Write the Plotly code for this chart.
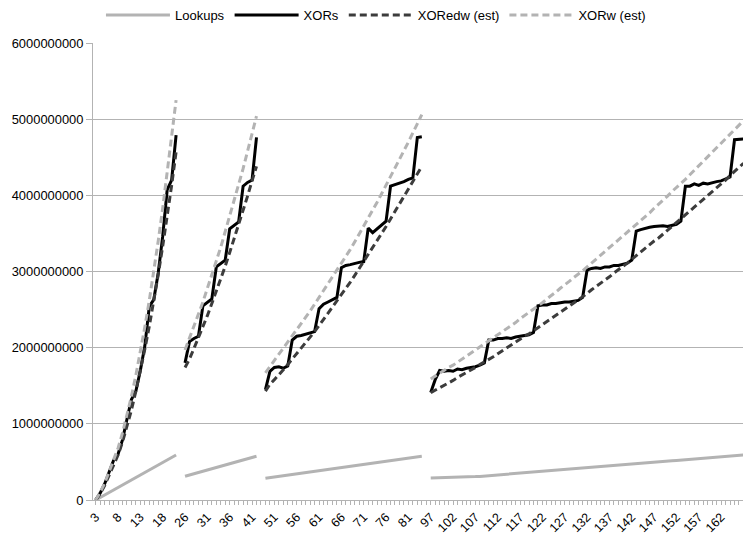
import plotly.graph_objects as go

# ---- categories (n), four blocks separated by one empty category ----
cats1 = list(range(3, 22))
cats2 = list(range(26, 43))
cats3 = list(range(49, 85))
cats4 = list(range(97, 168))

# ---- values in billions ----
lookups1 = [0.000, 0.033, 0.066, 0.098, 0.131, 0.164, 0.197, 0.229, 0.262, 0.295,
            0.328, 0.361, 0.393, 0.426, 0.459, 0.492, 0.524, 0.557, 0.590]
lookups2 = [0.312, 0.328, 0.345, 0.361, 0.378, 0.394, 0.410, 0.427, 0.443, 0.459,
            0.476, 0.492, 0.509, 0.525, 0.541, 0.558, 0.574]
lookups3 = [0.285, 0.293, 0.302, 0.310, 0.318, 0.326, 0.335, 0.343, 0.351, 0.360,
            0.368, 0.376, 0.385, 0.393, 0.401, 0.409, 0.418, 0.426, 0.434, 0.443,
            0.451, 0.459, 0.467, 0.476, 0.484, 0.492, 0.501, 0.509, 0.517, 0.526,
            0.534, 0.542, 0.550, 0.559, 0.567, 0.575]
lookups4 = [0.290, 0.291, 0.292, 0.293, 0.294, 0.296, 0.298, 0.300, 0.302, 0.304,
            0.307, 0.310, 0.315, 0.319, 0.324, 0.329, 0.334, 0.338, 0.343, 0.348,
            0.353, 0.357, 0.362, 0.367, 0.372, 0.377, 0.381, 0.386, 0.391, 0.396,
            0.400, 0.405, 0.410, 0.415, 0.419, 0.424, 0.429, 0.434, 0.438, 0.443,
            0.448, 0.453, 0.457, 0.462, 0.467, 0.472, 0.477, 0.481, 0.486, 0.491,
            0.496, 0.500, 0.505, 0.510, 0.515, 0.519, 0.524, 0.529, 0.534, 0.538,
            0.543, 0.548, 0.553, 0.557, 0.562, 0.567, 0.572, 0.576, 0.581, 0.586,
            0.591]

xors1 = [0.00, 0.09, 0.21, 0.37, 0.52, 0.60, 0.79, 1.06, 1.32, 1.43,
         1.70, 2.02, 2.54, 2.63, 2.98, 3.46, 4.07, 4.20, 4.79]
xors2 = [1.80, 2.08, 2.12, 2.15, 2.55, 2.60, 2.64, 3.06, 3.11, 3.15,
         3.56, 3.61, 3.65, 4.12, 4.17, 4.20, 4.76]
xors3 = [1.45, 1.69, 1.74, 1.75, 1.73, 1.76, 2.10, 2.15, 2.16, 2.18,
         2.20, 2.21, 2.51, 2.57, 2.60, 2.63, 2.66, 3.05, 3.08, 3.09,
         3.11, 3.12, 3.13, 3.57, 3.51, 3.56, 3.61, 3.66, 4.12, 4.14,
         4.15, 4.18, 4.21, 4.23, 4.76, 4.77]
xors4 = [1.41, 1.58, 1.70, 1.69, 1.70, 1.69, 1.72, 1.71, 1.73, 1.74,
         1.75, 1.77, 1.80, 2.10, 2.10, 2.12, 2.12, 2.13, 2.12, 2.14,
         2.15, 2.16, 2.17, 2.20, 2.55, 2.56, 2.56, 2.58, 2.58, 2.59,
         2.60, 2.60, 2.61, 2.62, 2.66, 3.02, 3.04, 3.05, 3.04, 3.06,
         3.06, 3.08, 3.08, 3.10, 3.11, 3.15, 3.53, 3.55, 3.57, 3.58,
         3.59, 3.60, 3.60, 3.59, 3.61, 3.62, 3.66, 4.12, 4.12, 4.15,
         4.13, 4.16, 4.15, 4.17, 4.18, 4.19, 4.21, 4.24, 4.73, 4.74,
         4.74]

xoredw1 = [0.00, 0.08, 0.19, 0.32, 0.45, 0.59, 0.76, 0.96, 1.18, 1.43,
           1.69, 1.98, 2.28, 2.61, 2.96, 3.33, 3.72, 4.13, 4.57]
xoredw2 = [1.74, 1.85, 1.99, 2.13, 2.27, 2.42, 2.58, 2.74, 2.90, 3.07,
           3.25, 3.43, 3.61, 3.80, 3.99, 4.19, 4.38]
xoredw3 = [1.43, 1.52, 1.58, 1.64, 1.71, 1.78, 1.85, 1.92, 1.99, 2.06,
           2.14, 2.21, 2.29, 2.37, 2.45, 2.53, 2.61, 2.69, 2.78, 2.86,
           2.95, 3.04, 3.13, 3.22, 3.31, 3.40, 3.50, 3.59, 3.69, 3.79,
           3.89, 3.99, 4.09, 4.19, 4.29, 4.38]
xoredw4 = [1.41, 1.44, 1.47, 1.51, 1.54, 1.57, 1.61, 1.64, 1.67, 1.71,
           1.74, 1.78, 1.81, 1.85, 1.88, 1.92, 1.96, 1.99, 2.03, 2.07,
           2.11, 2.15, 2.18, 2.22, 2.26, 2.30, 2.34, 2.38, 2.42, 2.46,
           2.50, 2.55, 2.59, 2.63, 2.67, 2.71, 2.76, 2.80, 2.84, 2.89,
           2.93, 2.98, 3.02, 3.07, 3.11, 3.16, 3.21, 3.25, 3.30, 3.35,
           3.40, 3.44, 3.49, 3.54, 3.59, 3.64, 3.69, 3.74, 3.79, 3.84,
           3.89, 3.94, 3.99, 4.04, 4.10, 4.15, 4.20, 4.26, 4.31, 4.36,
           4.42]

xorw1 = [0.00, 0.10, 0.22, 0.37, 0.52, 0.68, 0.88, 1.11, 1.36, 1.64,
         1.94, 2.27, 2.62, 3.00, 3.40, 3.83, 4.28, 4.75, 5.25]
xorw2 = [1.97, 2.12, 2.27, 2.44, 2.60, 2.77, 2.95, 3.14, 3.32, 3.52,
         3.72, 3.93, 4.14, 4.35, 4.58, 4.81, 5.04]
xorw3 = [1.67, 1.75, 1.83, 1.91, 1.99, 2.07, 2.15, 2.23, 2.31, 2.40,
         2.48, 2.57, 2.66, 2.75, 2.83, 2.92, 3.01, 3.10, 3.20, 3.29,
         3.39, 3.49, 3.59, 3.70, 3.80, 3.91, 4.02, 4.13, 4.24, 4.35,
         4.47, 4.58, 4.70, 4.82, 4.94, 5.06]
xorw4 = [1.59, 1.63, 1.66, 1.70, 1.74, 1.77, 1.81, 1.85, 1.89, 1.93,
         1.96, 2.00, 2.04, 2.08, 2.12, 2.17, 2.21, 2.25, 2.29, 2.33,
         2.38, 2.42, 2.46, 2.51, 2.55, 2.59, 2.64, 2.68, 2.73, 2.78,
         2.82, 2.87, 2.92, 2.96, 3.01, 3.06, 3.11, 3.16, 3.21, 3.26,
         3.31, 3.36, 3.41, 3.46, 3.51, 3.56, 3.61, 3.67, 3.72, 3.77,
         3.83, 3.88, 3.94, 3.99, 4.05, 4.10, 4.16, 4.21, 4.27, 4.33,
         4.39, 4.44, 4.50, 4.56, 4.62, 4.68, 4.74, 4.80, 4.86, 4.92,
         4.98]

y_ticks = [0, 1000000000, 2000000000, 3000000000, 4000000000, 5000000000, 6000000000]


def join(a, b, c, d, gap=None):
    return a + [gap] + b + [gap] + c + [gap] + d


categories = join(cats1, cats2, cats3, cats4, gap="")
xpos = list(range(len(categories)))
ticktext = [str(c) if (i % 5 == 0) else "" for i, c in enumerate(categories)]


def scaled(vals):
    return [None if v is None else v * 1e9 for v in vals]


series = [
    ("Lookups", join(lookups1, lookups2, lookups3, lookups4), "#b3b3b3", "solid"),
    ("XORs", join(xors1, xors2, xors3, xors4), "#000000", "solid"),
    ("XORedw (est)", join(xoredw1, xoredw2, xoredw3, xoredw4), "#3c3c3c", "7px,4px"),
    ("XORw (est)", join(xorw1, xorw2, xorw3, xorw4), "#b3b3b3", "7px,4px"),
]

FONT = "Liberation Sans, Arial, sans-serif"
GRID = "#b3b3b3"

fig = go.Figure()
for name, vals, color, dash in series:
    fig.add_trace(go.Scatter(
        x=xpos, y=scaled(vals), name=name, mode="lines",
        line=dict(color=color, width=3, dash=dash),
        connectgaps=False, hoverinfo="skip",
    ))

fig.update_layout(
    width=743, height=534, autosize=False,
    margin=dict(l=93, r=0, t=43, b=34),
    paper_bgcolor="white", plot_bgcolor="white",
    font=dict(family=FONT, size=13, color="#000000"),
    showlegend=True,
    legend=dict(
        orientation="h", xref="container", yref="container",
        x=0.506, xanchor="center", y=0.972, yanchor="middle",
        font=dict(family=FONT, size=13, color="#000000"),
        itemwidth=64, bgcolor="rgba(0,0,0,0)", tracegroupgap=0,
    ),
    xaxis=dict(
        range=[-0.6, 144.9], tickmode="array", tickvals=xpos, ticktext=ticktext,
        tickangle=-45, ticks="outside", ticklen=4, tickwidth=1, tickcolor=GRID,
        showline=True, linecolor=GRID, linewidth=1, showgrid=False, zeroline=False,
        tickfont=dict(family=FONT, size=12.5, color="#000000"),
    ),
    yaxis=dict(
        range=[0, 6e9], tickmode="array", tickvals=y_ticks, tickformat="d",
        ticks="outside", ticklen=6, tickwidth=1, tickcolor=GRID,
        showline=True, linecolor=GRID, linewidth=1,
        showgrid=True, gridcolor=GRID, gridwidth=1, zeroline=False,
        tickfont=dict(family=FONT, size=12.9, color="#000000"),
    ),
)

fig.write_html("out.html")
